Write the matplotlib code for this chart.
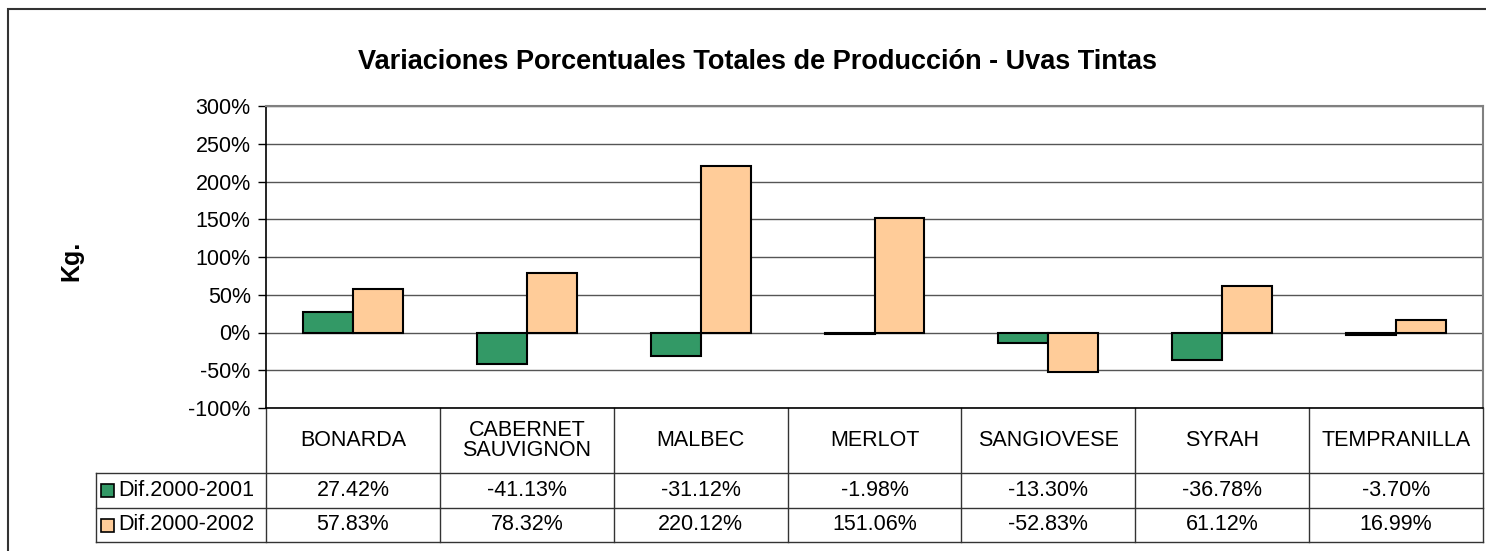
import matplotlib.pyplot as plt
from matplotlib.patches import Rectangle
from matplotlib.lines import Line2D

plt.rcParams['font.family'] = ['Liberation Sans', 'DejaVu Sans']

categories = ["BONARDA", "CABERNET\nSAUVIGNON", "MALBEC", "MERLOT",
              "SANGIOVESE", "SYRAH", "TEMPRANILLA"]
dif_2001 = [27.42, -41.13, -31.12, -1.98, -13.30, -36.78, -3.70]
dif_2002 = [57.83, 78.32, 220.12, 151.06, -52.83, 61.12, 16.99]
series_names = ["Dif.2000-2001", "Dif.2000-2002"]
series_colors = ["#339966", "#FFCC99"]
yticks = [-100, -50, 0, 50, 100, 150, 200, 250, 300]

W, H = 1486, 551
FS = 15.5
fig = plt.figure(figsize=(W / 100, H / 100), dpi=100)

# chart frame (only top and left edges fall inside the picture)
fig.add_artist(Rectangle((8 / W, -0.1), 1.2, 1 - 9 / H + 0.1,
                         transform=fig.transFigure, fill=False,
                         edgecolor="#333333", linewidth=1.5))

left, right, top, bottom = 266, 1483, 106, 408
ax = fig.add_axes([left / W, 1 - bottom / H, (right - left) / W, (bottom - top) / H])

n = len(categories)
bw = 50 / 174
xs = list(range(n))
ax.bar([x - bw / 2 for x in xs], dif_2001, width=bw, color=series_colors[0],
       edgecolor="black", linewidth=1.5, zorder=3)
ax.bar([x + bw / 2 for x in xs], dif_2002, width=bw, color=series_colors[1],
       edgecolor="black", linewidth=1.5, zorder=3)

ax.set_xlim(-0.5, n - 0.5)
ax.set_ylim(-100, 300)
ax.set_yticks(yticks)
ax.set_yticklabels([f"{t}%" for t in yticks], fontsize=FS)
ax.tick_params(axis="y", direction="out", length=6, width=1, pad=5)
ax.set_xticks([])
ax.yaxis.grid(True, color="#555555", linewidth=1, zorder=0)
ax.set_axisbelow(True)
for s in ["top", "right"]:
    ax.spines[s].set_color("#808080")
    ax.spines[s].set_linewidth(1.5)
for s in ["left", "bottom"]:
    ax.spines[s].set_color("black")
    ax.spines[s].set_linewidth(1.2)

# data table below the axes (x in data units, y in axes fraction)
tr = ax.get_xaxis_transform()
ph = bottom - top
def yf(px):
    return (bottom - px) / ph

row_top, row1, row2, row_end = yf(408), yf(473), yf(508), yf(542)
x_leg = -0.5 - (left - 96) / 174
line_kw = dict(transform=tr, color="#333333", linewidth=1, clip_on=False)

for b in [x - 0.5 for x in xs] + [n - 0.5]:
    ax.add_line(Line2D([b, b], [row_top, row_end], **line_kw))
ax.add_line(Line2D([x_leg, x_leg], [row1, row_end], **line_kw))
for yy in [row1, row2, row_end]:
    ax.add_line(Line2D([x_leg, n - 0.5], [yy, yy], **line_kw))

for i, c in enumerate(categories):
    ax.text(i, (row_top + row1) / 2, c, transform=tr, ha="center", va="center",
            fontsize=FS, linespacing=1.0)

for r, (name, vals, col) in enumerate(zip(series_names, [dif_2001, dif_2002], series_colors)):
    yc = (row1 + row2) / 2 if r == 0 else (row2 + row_end) / 2
    for i, v in enumerate(vals):
        ax.text(i, yc, f"{v:.2f}%", transform=tr, ha="center", va="center",
                fontsize=FS)
    sq = 13 / 174
    ax.add_patch(Rectangle((x_leg + 5 / 174, yc - 6.5 / ph), sq, 13 / ph,
                           transform=tr, facecolor=col, edgecolor="black",
                           linewidth=1.2, clip_on=False))
    ax.text(x_leg + 22 / 174, yc, name, transform=tr, ha="left", va="center",
            fontsize=FS)

fig.text(758 / W, 1 - 62 / H,
         "Variaciones Porcentuales Totales de Producción - Uvas Tintas",
         ha="center", va="center", fontsize=19.5, fontweight="bold")
fig.text(71 / W, 1 - 261 / H, "Kg.", rotation=90, ha="center", va="center",
         fontsize=18, fontweight="bold")

fig.savefig("out.png", dpi=100)
